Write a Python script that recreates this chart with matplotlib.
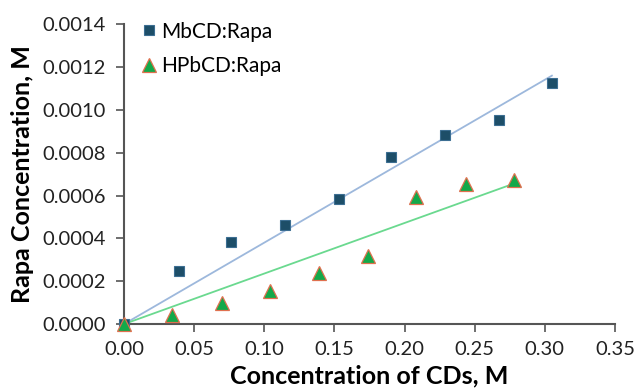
import numpy as np
import matplotlib
matplotlib.use("Agg")
import matplotlib.pyplot as plt

plt.rcParams["font.family"] = ["Lato", "DejaVu Sans"]

mbcd_x = [0.0, 0.039, 0.076, 0.115, 0.1535, 0.190, 0.229, 0.267, 0.305]
mbcd_y = [0.0, 0.000247, 0.000383, 0.000463, 0.000585, 0.000779, 0.000882, 0.000951, 0.001126]

hpbcd_x = [0.0, 0.034, 0.070, 0.104, 0.139, 0.174, 0.208, 0.2435, 0.278]
hpbcd_y = [0.0, 0.000042, 0.0001, 0.000155, 0.000237, 0.000316, 0.000591, 0.000653, 0.000672]

x_ticks = [0.0, 0.05, 0.10, 0.15, 0.20, 0.25, 0.30, 0.35]
y_ticks = [0.0, 0.0002, 0.0004, 0.0006, 0.0008, 0.0010, 0.0012, 0.0014]


def origin_fit(x, y):
    # Excel-style linear trendline forced through the origin
    x = np.asarray(x)
    y = np.asarray(y)
    slope = (x * y).sum() / (x * x).sum()
    xs = np.array([0.0, x.max()])
    return xs, slope * xs


fig = plt.figure(figsize=(6.36, 3.9), dpi=100)
ax = fig.add_axes([0.195, 0.169, 0.772, 0.769])

lx, ly = origin_fit(mbcd_x, mbcd_y)
ax.plot(lx, ly, color="#9db8dc", lw=1.3, zorder=2)
lx, ly = origin_fit(hpbcd_x, hpbcd_y)
ax.plot(lx, ly, color="#6ad98f", lw=1.3, zorder=2)

ax.plot(mbcd_x, mbcd_y, ls="none", marker="s", ms=7.5, color="#1d4e68",
        mec="#3c6e92", mew=0.8, label="MbCD:Rapa", zorder=3, clip_on=False)
ax.plot(hpbcd_x, hpbcd_y, ls="none", marker="^", ms=10.5, color="#13a94a",
        mec="#e0704f", mew=0.9, label="HPbCD:Rapa", zorder=4, clip_on=False)

ax.set_xlim(0, 0.35)
ax.set_ylim(0, 0.0014)
ax.set_xticks(x_ticks)
ax.set_yticks(y_ticks)
ax.set_xticklabels([f"{v:.2f}" for v in x_ticks])
ax.set_yticklabels([f"{v:.4f}" for v in y_ticks])

for side in ("top", "right"):
    ax.spines[side].set_visible(False)
for side in ("left", "bottom"):
    ax.spines[side].set_color("#555555")
    ax.spines[side].set_linewidth(1.5)
ax.tick_params(direction="out", length=6, width=1.2, color="#555555",
               labelsize=14.5, labelcolor="#222222")
ax.tick_params(axis="x", pad=6)
ax.tick_params(axis="y", pad=7)

ax.set_xlabel("Concentration of CDs, M", fontsize=18, fontweight="bold", labelpad=5)
ax.set_ylabel("Rapa Concentration, M", fontsize=18, fontweight="bold", labelpad=6)

ax.legend(loc="upper left", bbox_to_anchor=(0.033, 1.008), frameon=False,
          fontsize=15, handlelength=0.8, handletextpad=0.2, labelspacing=0.69,
          borderpad=0, borderaxespad=0)

fig.savefig("out.png", dpi=100)
